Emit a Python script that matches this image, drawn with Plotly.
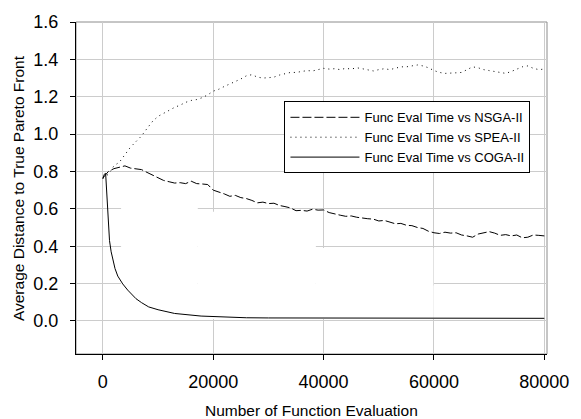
import plotly.graph_objects as go

# Number of function evaluations (common grid for NSGA-II and SPEA-II)
evals = list(range(0, 81000, 1000))

nsga2 = [
    0.765, 0.800, 0.815, 0.822, 0.830, 0.818, 0.812, 0.810, 0.795, 0.780,
    0.765, 0.752, 0.745, 0.738, 0.740, 0.735, 0.748, 0.735, 0.733, 0.730,
    0.700, 0.692, 0.680, 0.667, 0.672, 0.660, 0.655, 0.645, 0.632, 0.636,
    0.628, 0.630, 0.618, 0.612, 0.605, 0.590, 0.592, 0.588, 0.598, 0.593,
    0.594, 0.580, 0.575, 0.566, 0.560, 0.562, 0.555, 0.553, 0.547, 0.545,
    0.535, 0.538, 0.528, 0.520, 0.522, 0.512, 0.510, 0.500, 0.495, 0.480,
    0.472, 0.468, 0.475, 0.470, 0.472, 0.460, 0.455, 0.448, 0.465, 0.470,
    0.478, 0.470, 0.458, 0.462, 0.455, 0.460, 0.445, 0.448, 0.460, 0.458,
    0.455,
]

spea2 = [
    0.765, 0.785, 0.830, 0.850, 0.890, 0.930, 0.960, 0.990, 1.030, 1.068,
    1.095, 1.112, 1.128, 1.143, 1.155, 1.170, 1.180, 1.185, 1.195, 1.210,
    1.230, 1.240, 1.255, 1.267, 1.280, 1.295, 1.312, 1.318, 1.305, 1.300,
    1.302, 1.305, 1.316, 1.322, 1.330, 1.330, 1.335, 1.340, 1.338, 1.345,
    1.352, 1.348, 1.350, 1.345, 1.352, 1.348, 1.355, 1.350, 1.342, 1.338,
    1.345, 1.350, 1.345, 1.352, 1.360, 1.360, 1.365, 1.370, 1.365, 1.355,
    1.340, 1.330, 1.325, 1.325, 1.328, 1.330, 1.345, 1.360, 1.355, 1.345,
    1.340, 1.335, 1.330, 1.325, 1.335, 1.348, 1.360, 1.365, 1.352, 1.345,
    1.348,
]

# COGA-II converges quickly, so it is sampled more densely at the start
coga_evals = [
    0, 250, 500, 650, 800, 1000, 1200, 1500, 1800, 2200, 2700, 3600, 4500,
    6000, 7000, 8300, 10000, 13000, 17800, 22500, 26000, 30000, 40000,
    50000, 60000, 70000, 80000,
]
coga2 = [
    0.760, 0.785, 0.790, 0.700, 0.590, 0.500, 0.430, 0.370, 0.322, 0.280,
    0.240, 0.198, 0.165, 0.119, 0.098, 0.075, 0.060, 0.040, 0.026, 0.019,
    0.017, 0.016, 0.016, 0.015, 0.015, 0.014, 0.014,
]

series_names = [
    "Func Eval Time vs NSGA-II",
    "Func Eval Time vs SPEA-II",
    "Func Eval Time vs COGA-II",
]

y_ticks = [0.0, 0.2, 0.4, 0.6, 0.8, 1.0, 1.2, 1.4, 1.6]
x_ticks = [0, 20000, 40000, 60000, 80000]

FONT = "Liberation Sans, Arial, sans-serif"

fig = go.Figure()
fig.add_trace(go.Scatter(x=evals, y=nsga2, mode="lines", name=series_names[0],
                         line=dict(color="black", width=1, dash="9px,3px")))
fig.add_trace(go.Scatter(x=evals, y=spea2, mode="lines", name=series_names[1],
                         line=dict(color="black", width=1, dash="1px,4px")))
fig.add_trace(go.Scatter(x=coga_evals, y=coga2, mode="lines", name=series_names[2],
                         line=dict(color="black", width=1)))

# white patches that mask parts of the grid below the curves
grid_masks = [
    (3300, 17200, 0.01, 0.62),
    (17200, 38600, 0.01, 0.585),
    (38600, 59900, 0.01, 0.39),
    (59900, 79500, 0.01, 0.19),
]
shapes = [
    dict(type="rect", xref="x", yref="y", x0=a, x1=b, y0=c, y1=d,
         fillcolor="white", line=dict(width=0), layer="between")
    for a, b, c, d in grid_masks
]
# plot-area frame
shapes.append(dict(type="rect", xref="paper", yref="paper", x0=0, x1=1, y0=0, y1=1,
                   line=dict(color="#8c8c8c", width=1), layer="below"))

fig.update_layout(
    width=581, height=419,
    margin=dict(l=76, r=26, t=19, b=65),
    paper_bgcolor="white", plot_bgcolor="white",
    font=dict(family=FONT, color="black"),
    shapes=shapes,
    showlegend=True,
    legend=dict(
        x=0.4426, y=0.761, xanchor="left", yanchor="top",
        bordercolor="black", borderwidth=1, bgcolor="white",
        font=dict(family=FONT, size=13, color="black"),
        itemwidth=69, tracegroupgap=0,
    ),
    xaxis=dict(
        range=[-4870, 80480], tickvals=x_ticks, ticktext=[str(v) for v in x_ticks],
        showgrid=True, gridcolor="#cccccc", gridwidth=1,
        showline=True, linecolor="black", linewidth=1,
        ticks="outside", ticklen=5, tickcolor="black",
        tickfont=dict(family=FONT, size=18), zeroline=False,
        ticklabelstandoff=6,
    ),
    yaxis=dict(
        range=[-0.177, 1.6], tickvals=y_ticks, ticktext=[f"{v:.1f}" for v in y_ticks],
        showgrid=True, gridcolor="#cccccc", gridwidth=1,
        showline=True, linecolor="black", linewidth=1,
        ticks="outside", ticklen=5, tickcolor="black",
        tickfont=dict(family=FONT, size=18), zeroline=False,
        ticklabelstandoff=8,
    ),
    annotations=[
        dict(text="Number of Function Evaluation", xref="paper", yref="paper",
             x=0.5, y=-0.170, xanchor="center", yanchor="middle", showarrow=False,
             font=dict(family=FONT, size=15.5)),
        dict(text="Average Distance to True Pareto Front", xref="paper", yref="paper",
             x=-0.123, y=0.5, xanchor="center", yanchor="middle", showarrow=False,
             textangle=-90, font=dict(family=FONT, size=15.5)),
    ],
)

fig.write_html("out.html")
